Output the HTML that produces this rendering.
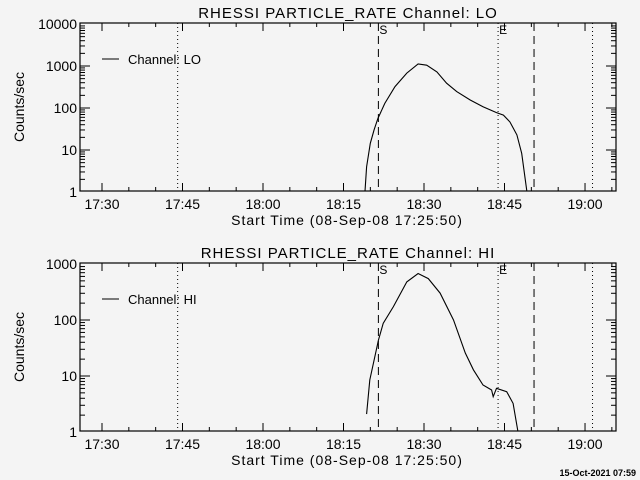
<!DOCTYPE html>
<html><head><meta charset="utf-8"><style>
html,body{margin:0;padding:0;background:#f4f4f4;}
svg{display:block;font-family:"Liberation Sans",sans-serif;}
</style></head><body>
<svg id="c" width="640" height="480" viewBox="0 0 640 480"></svg>
<script>
const xTickLabels = ["17:30","17:45","18:00","18:15","18:30","18:45","19:00"];
const xTickMinutes = [-30,-15,0,15,30,45,60];
const loTimes = [18.9,19.3,20.0,20.7,21.4,22.7,24.6,26.8,28.9,30.5,32.4,34.2,36.1,38.6,41.0,43.5,44.8,46.0,47.3,48.2,49.4];
const loLogValues = [-0.2,0.60,1.16,1.48,1.75,2.11,2.51,2.83,3.05,3.02,2.86,2.59,2.39,2.19,2.03,1.89,1.83,1.67,1.36,0.92,-0.2];
const hiTimes = [19.3,19.9,21.5,22.4,24.3,26.8,28.9,30.8,33.0,35.5,37.7,39.2,41.0,42.6,42.9,43.5,45.4,46.6,47.6];
const hiLogValues = [0.32,0.93,1.64,1.94,2.24,2.68,2.83,2.74,2.48,2.0,1.41,1.11,0.84,0.75,0.63,0.78,0.72,0.51,-0.05];
const markerTimes = [-15.9,21.5,43.8,50.5,61.4];
const markerStyles = ["dot","dash","dot","dash","dot"];
const loTicks = ["1","10","100","1000","10000"];
const hiTicks = ["1","10","100","1000"];

const svg=document.getElementById('c');
const NS="http://www.w3.org/2000/svg";
function mk(tag,attrs,parent){const e=document.createElementNS(NS,tag);for(const k in attrs)e.setAttribute(k,attrs[k]);(parent||svg).appendChild(e);return e;}
const X0=80,X1=616;
function xs(t){return 263+t*5.367;}

function panel(name,top,bottom,decade,ticks,times,logs,title,legend,ly){
  const g=mk('g',{});
  
  
  const base=bottom+1;
  function ys(l){return base-l*decade;}
  const t=mk('text',{x:348,y:top-5,'font-size':15,'text-anchor':'middle',fill:'#000','letter-spacing':1},g);
  t.textContent=title;
  
  
  const cp=mk('clipPath',{id:'cp'+name},g);
  mk('rect',{x:X0,y:top,width:X1-X0,height:bottom-top},cp);
  markerTimes.forEach((m,i)=>{
    const l=mk('line',{x1:xs(m),x2:xs(m),y1:top,y2:bottom,stroke:'#000','stroke-width':1,'stroke-dasharray':markerStyles[i]=='dot'?'1,3':'8,5'},g);
    
    
  });
  [["S",1],["E",2]].forEach(([s,i])=>{
    const tx=mk('text',{x:xs(markerTimes[i])+1,y:top+11,'font-size':12},g);tx.textContent=s;
    
    
  });
  const b=mk('rect',{x:X0,y:top,width:X1-X0,height:bottom-top,fill:'none',stroke:'#000','stroke-width':1.2},g);
  
  
  ticks.forEach((lab,d)=>{
    const y=ys(d);
    const tx=mk('text',{x:77,y:y+5,'font-size':14,'text-anchor':'end'},g);tx.textContent=lab;
    
    
    if(d>0&&d<ticks.length-1||d==ticks.length-1&&y>top+1){
      mk('line',{x1:X0,x2:X0+10,y1:y,y2:y,stroke:'#000'},g);
      mk('line',{x1:X1-10,x2:X1,y1:y,y2:y,stroke:'#000'},g);
    }
    if(d<ticks.length-1){
      for(let k=2;k<10;k++){const yy=ys(d+Math.log10(k));if(yy<top)continue;
        mk('line',{x1:X0,x2:X0+5,y1:yy,y2:yy,stroke:'#000'},g);
        mk('line',{x1:X1-5,x2:X1,y1:yy,y2:yy,stroke:'#000'},g);}
    }
  });
  const yl=mk('text',{transform:`translate(24,${(top+bottom)/2}) rotate(-90)`,'font-size':14,'text-anchor':'middle'},g);
  yl.textContent='Counts/sec';
  
  
  for(let m=-30;m<=65;m+=5){const x=xs(m);const maj=m%15==0;
    mk('line',{x1:x,x2:x,y1:bottom,y2:bottom-(maj?8:4),stroke:'#000'},g);
    mk('line',{x1:x,x2:x,y1:top,y2:top+(maj?8:4),stroke:'#000'},g);}
  xTickLabels.forEach((lab,i)=>{
    const tx=mk('text',{x:xs(xTickMinutes[i]),y:bottom+18,'font-size':14,'text-anchor':'middle'},g);tx.textContent=lab;
    
    
  });
  const xl=mk('text',{x:347,y:bottom+34,'font-size':14,'text-anchor':'middle','letter-spacing':1},g);
  xl.textContent='Start Time (08-Sep-08 17:25:50)';
  
  
  const pts=times.map((tm,i)=>xs(tm).toFixed(1)+','+ys(logs[i]).toFixed(1)).join(' ');
  const pl=mk('polyline',{points:pts,fill:'none',stroke:'#000','stroke-width':1.1,'clip-path':`url(#cp${name})`},g);
  
  
  const lg=mk('g',{},g);
  
  
  mk('line',{x1:102,x2:119,y1:ly,y2:ly,stroke:'#000'},lg);
  const lt=mk('text',{x:128,y:ly+5,'font-size':13},lg);lt.textContent=legend;
}
panel('lo',23,191,42,loTicks,loTimes,loLogValues,'RHESSI PARTICLE_RATE Channel: LO','Channel: LO',59);
panel('hi',263,431,56,hiTicks,hiTimes,hiLogValues,'RHESSI PARTICLE_RATE Channel: HI','Channel: HI',299);
const ds=mk('text',{x:636,y:476,'font-size':9,'text-anchor':'end','font-weight':'bold'});
ds.textContent='15-Oct-2021 07:59';


</script>
</body></html>
